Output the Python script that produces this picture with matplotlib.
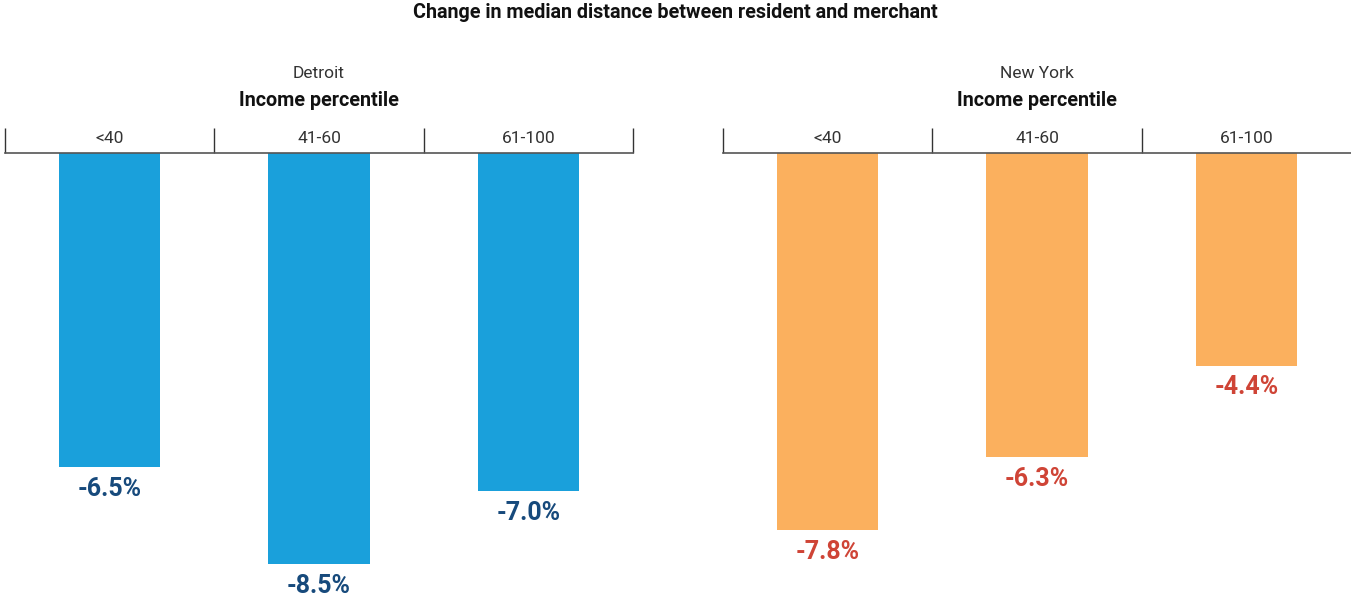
import matplotlib
matplotlib.use("Agg")
import matplotlib.pyplot as plt

plt.rcParams["font.family"] = ["Liberation Sans Narrow", "Roboto", "DejaVu Sans"]

categories = ["<40", "41-60", "61-100"]
detroit_values = [-6.5, -8.5, -7.0]
newyork_values = [-7.8, -6.3, -4.4]
detroit_labels = ["-6.5%", "-8.5%", "-7.0%"]
newyork_labels = ["-7.8%", "-6.3%", "-4.4%"]

W, H = 1351, 601
fig = plt.figure(figsize=(W / 100, H / 100), dpi=100)

axis_y = 153
ax_h = (H - axis_y) / H
ax_w = 628 / W

panels = [
    ("Detroit", 5, detroit_values, detroit_labels, "#1aa0db", "#174a7c", [-0.5, 0.5, 1.5, 2.5]),
    ("New York", 723, newyork_values, newyork_labels, "#fbb05e", "#cf4436", [-0.5, 0.5, 1.5]),
]

for city, left_px, values, labels, bar_color, text_color, bounds in panels:
    ax = fig.add_axes([left_px / W, 0, ax_w, ax_h])
    x = list(range(len(categories)))
    ax.bar(x, values, width=0.483, color=bar_color)
    ax.set_xlim(-0.5, 2.5)
    ax.set_ylim(-9.27, 0)
    for s in ["left", "right", "bottom"]:
        ax.spines[s].set_visible(False)
    ax.spines["top"].set_color("#555555")
    ax.spines["top"].set_linewidth(1.2)
    ax.set_yticks([])
    ax.xaxis.tick_top()
    ax.set_xticks(bounds)
    ax.set_xticklabels([])
    ax.tick_params(axis="x", which="major", direction="out", length=18, width=1, color="#333333")
    ax.set_xticks(x, minor=True)
    ax.set_xticklabels(categories, minor=True, fontsize=12.5, color="#333333")
    ax.tick_params(axis="x", which="minor", length=0, pad=5)
    for xi, v, lab in zip(x, values, labels):
        ax.annotate(lab, (xi, v), xytext=(0, -7), textcoords="offset points",
                    ha="center", va="top", fontsize=18, fontweight="bold", color=text_color)

    # panel headers centred over each panel
    cx = (left_px + 314) / W
    fig.text(cx, (H - 73) / H, city, ha="center", va="center", fontsize=12.5, color="#333333")
    fig.text(cx, (H - 100) / H, "Income percentile", ha="center", va="center",
             fontsize=14.2, fontweight="bold", color="#111111")

fig.text(0.5, (H - 12) / H, "Change in median distance between resident and merchant",
         ha="center", va="center", fontsize=14.2, fontweight="bold", color="#111111")

fig.savefig("out.png", dpi=100)
